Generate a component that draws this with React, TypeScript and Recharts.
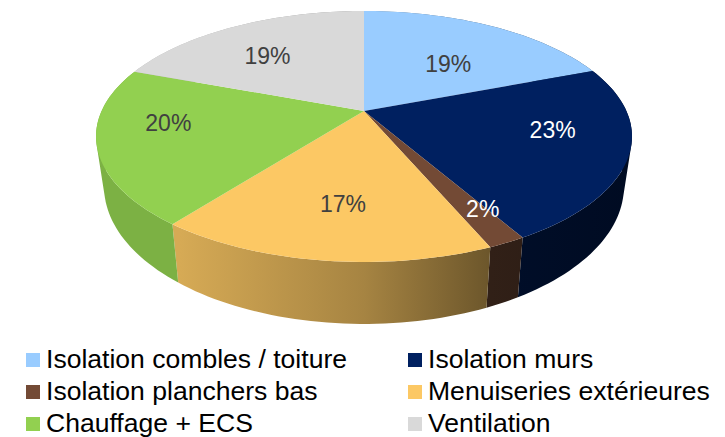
import React from "react";
import { PieChart, Pie, Legend } from "recharts";

const categories = [
  "Isolation combles / toiture",
  "Isolation murs",
  "Isolation planchers bas",
  "Menuiseries extérieures",
  "Chauffage + ECS",
  "Ventilation",
];
const shares = [19.2, 22.5, 1.9, 16.9, 20.2, 19.3];
const shareLabels = ["19%", "23%", "2%", "17%", "20%", "19%"];
const colors = ["#99CCFF", "#002060", "#734A35", "#FCC864", "#92D050", "#D9D9D9"];
const labelColors = ["#404040", "#FFFFFF", "#FFFFFF", "#404040", "#404040", "#404040"];
const labelNudges = [[3, 7], [34, -6], [40, 25], [2, 12], [-39, -8], [-15, -1]];

const rows = categories.map((name, i) => ({ name, value: shares[i], fill: colors[i] }));

// perspective of the disc
const W = 725, H = 437, CX = 364, CY = 111, C = 262.4, A = 120.3, B = 0.203;
const RAD = Math.PI / 180;

function top(deg: number, f = 1) {
  const t = (90 - deg) * RAD;
  const X = Math.sin(t) * f, Y = Math.cos(t) * f;
  const d = 1 + B * Y;
  return [CX + (C * X) / d, CY - (A * Y) / d];
}
function bottom(deg: number) {
  const [x, y] = top(deg);
  return [CX + (x - CX) * 0.97, CY + (y - CY) * 1.096 + 47.5];
}
function arc(from: number, to: number, fn: (d: number) => number[]) {
  const n = Math.max(4, Math.ceil(Math.abs(to - from) / 1.5));
  const pts: number[][] = [];
  for (let i = 0; i <= n; i++) pts.push(fn(from + ((to - from) * i) / n));
  return pts;
}
const toPath = (pts: number[][]) =>
  pts.map((p, i) => `${i ? "L" : "M"}${p[0].toFixed(2)} ${p[1].toFixed(2)}`).join(" ") + " Z";

// the wall is a strip of quads, all wound the same way, so that their union
// also covers the silhouette between the top and the bottom rim
function wallPath(from: number, to: number) {
  const a = arc(from, to, (d) => top(d));
  const b = arc(from, to, bottom);
  const parts: string[] = [];
  for (let i = 0; i + 1 < a.length; i++) {
    const q = [a[i], a[i + 1], b[i + 1], b[i]];
    let area = 0;
    q.forEach((p, k) => {
      const r = q[(k + 1) % 4];
      area += p[0] * r[1] - r[0] * p[1];
    });
    parts.push(toPath(area < 0 ? [...q].reverse() : q));
  }
  return parts.join(" ");
}

function shade(hex: string, k: number) {
  const n = parseInt(hex.slice(1), 16);
  const c = [(n >> 16) & 255, (n >> 8) & 255, n & 255].map((v) => Math.round(v * k));
  return `rgb(${c[0]},${c[1]},${c[2]})`;
}
const wallStops = [[96, 0.85], [180, 0.85], [364, 0.66], [490, 0.43], [632, 0.35]];

function Wall(p: any) {
  const id = `wall${p.index}`;
  return (
    <g>
      <linearGradient id={id} gradientUnits="userSpaceOnUse" x1={96} x2={632} y1={0} y2={0}>
        {wallStops.map(([x, k]) => (
          <stop key={x} offset={(x - 96) / 536} stopColor={shade(colors[p.index], k)} />
        ))}
      </linearGradient>
      <path d={wallPath(p.startAngle, p.endAngle)} fill={`url(#${id})`} fillRule="nonzero" />
    </g>
  );
}
function Top(p: any) {
  return <path d={toPath([[CX, CY], ...arc(p.startAngle, p.endAngle, (d) => top(d))])} fill={p.fill} />;
}
function SliceLabel(p: any) {
  const [x, y] = top(p.midAngle, 0.6);
  const [nx, ny] = labelNudges[p.index];
  return (
    <text x={x + nx} y={y + ny} textAnchor="middle" dominantBaseline="central"
      fill={labelColors[p.index]} fontFamily="Liberation Sans" fontSize={23}>
      {shareLabels[p.index]}
    </text>
  );
}
function LegendGrid({ payload }: any) {
  const seen = new Set<string>();
  const items = (payload || [])
    .filter((e: any) => e.type !== "none" && !seen.has(e.value) && seen.add(e.value))
    .sort((a: any, b: any) => categories.indexOf(a.value) - categories.indexOf(b.value));
  return (
    <div style={{ display: "grid", gridTemplateColumns: "382px 1fr", gridAutoRows: "32px",
      fontFamily: "Liberation Sans", fontSize: 26.55, color: "#000" }}>
      {items.map((e: any) => (
        <div key={e.value} style={{ display: "flex", alignItems: "center", whiteSpace: "nowrap" }}>
          <span style={{ width: 14, height: 14, background: e.color, marginRight: 6, flex: "none" }} />
          <span style={{ position: "relative", top: -1 }}>{e.value}</span>
        </div>
      ))}
    </div>
  );
}

export default function App() {
  return (
    <div style={{ position: "absolute", left: 0, top: 0, width: W, height: H, overflow: "hidden" }}>
      <PieChart width={W} height={H} margin={{ top: 0, right: 0, bottom: 0, left: 0 }}>
        <Pie data={rows} dataKey="value" nameKey="name" cx={CX} cy={CY} innerRadius={0} outerRadius={100}
          startAngle={90} endAngle={-270} stroke="none" legendType="none" shape={Wall}
          isAnimationActive={false} />
        <Pie data={rows} dataKey="value" nameKey="name" cx={CX} cy={CY} innerRadius={0} outerRadius={100}
          startAngle={90} endAngle={-270} stroke="none" shape={Top} label={SliceLabel} labelLine={false}
          isAnimationActive={false} />
        <Legend content={<LegendGrid />} wrapperStyle={{ left: 26, top: 344, width: 699 }} />
      </PieChart>
    </div>
  );
}
